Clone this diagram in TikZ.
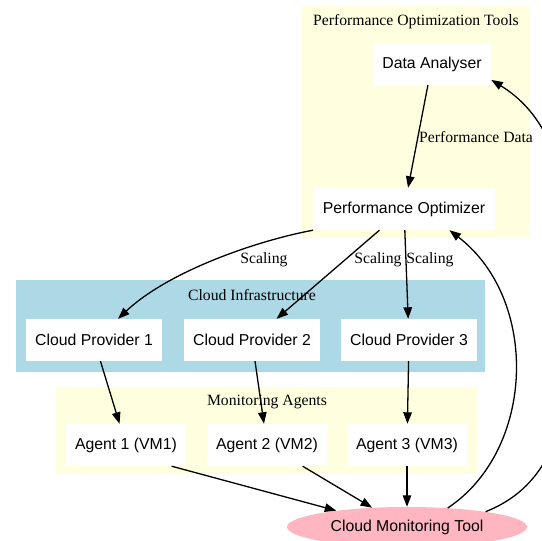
\documentclass[tikz,border=0pt]{standalone}
\usepackage{fontspec}
\setmainfont{Liberation Serif}
\newfontfamily\nodefont{Liberation Sans}
\usetikzlibrary{arrows.meta,shapes.geometric}
\definecolor{clyellow}{HTML}{FFFFE0}
\definecolor{clblue}{HTML}{ADD8E6}
\definecolor{clpink}{HTML}{FFB6C1}
\tikzset{
  box/.style={fill=white, inner xsep=9.5pt, inner ysep=0pt, minimum height=42pt,
    font=\nodefont\fontsize{15.8}{18}\selectfont},
  oval/.style={ellipse, fill=clpink, inner sep=0pt, minimum width=240pt, minimum height=40pt,
    font=\nodefont\fontsize{15.8}{18}\selectfont},
  lbl/.style={font=\fontsize{15.7}{18}\selectfont, inner sep=0pt},
  edge/.style={line width=1.3pt, -{Triangle[length=11.5pt,width=8.5pt]}},
}
\begin{document}
\begin{tikzpicture}[x=1pt,y=-1pt]
\path[use as bounding box, clip] (0,0) rectangle (542,541);
\fill[white] (0,0) rectangle (542,541);
% clusters
\fill[clyellow] (302,6) rectangle (530,238);
\fill[clblue] (16,280) rectangle (485,372);
\fill[clyellow] (56,387) rectangle (477,474);
\node[lbl] (tPOT) at (416,22) {Performance Optimization Tools};
\node[lbl] (tCI) at (252,295) {Cloud Infrastructure};
\node[lbl] (tMA) at (267,402) {Monitoring Agents};
% nodes
\node[box] (da) at (432,64) {Data Analyser};
\node[box] (po) at (404,209) {Performance Optimizer};
\node[box] (cp1) at (94,340) {Cloud Provider 1};
\node[box] (cp2) at (252,340) {Cloud Provider 2};
\node[box] (cp3) at (409,340) {Cloud Provider 3};
\node[box] (a1) at (126,445) {Agent 1 (VM1)};
\node[box] (a2) at (267,445) {Agent 2 (VM2)};
\node[box] (a3) at (407,445) {Agent 3 (VM3)};
\node[oval] (cmt) at (407,527) {Cloud Monitoring Tool};
% edges
\draw[edge] (da) -- (po);
\node[lbl] (lPD) at (476,137) {Performance Data};
\draw[edge] (po.south west) .. controls (260,240) and (170,270) .. ([xshift=24pt]cp1.north);
\draw[edge] (po) -- (cp2);
\draw[edge] (po) -- (cp3);
\node[lbl] (lS1) at (264,260) {Scaling};
\node[lbl] (lS2) at (378,260) {Scaling};
\node[lbl] (lS3) at (430,260) {Scaling};
\draw[edge] (cp1) -- (a1);
\draw[edge] (cp2) -- (a2);
\draw[edge] (cp3) -- (a3);
\draw[edge] ([xshift=-15pt]a1.south east) -- (cmt.167);
\draw[edge] ([xshift=-25pt]a2.south east) -- (cmt.151);
\draw[edge] (a3) -- (cmt);
\draw[edge] (cmt.25) .. controls (535,450) and (540,300) .. (po.-25);
\draw[edge] (cmt.11) .. controls (540,490) and (575,440) .. (575,300) .. controls (575,160) and (540,110) .. (da.-15);
\end{tikzpicture}
\end{document}
